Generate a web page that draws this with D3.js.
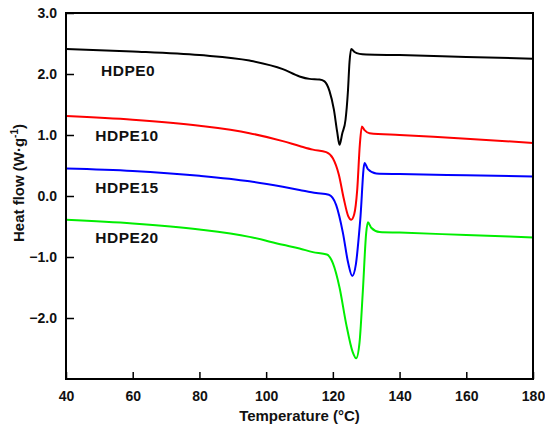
<!DOCTYPE html>
<html>
<head>
<meta charset="utf-8">
<script src="https://cdn.jsdelivr.net/npm/d3@7"></script>
<style>
  body { margin: 0; background: #fff; }
  svg { display: block; }
  text { font-family: Arial, "Liberation Sans", sans-serif; font-weight: bold; }
</style>
</head>
<body>
<div id="chart"></div>
<script>
// DSC curves, values: [temperature °C, heat flow W/g]
const hdpe0 = [
  [40, 2.41], [60, 2.37], [80, 2.31], [95, 2.22], [105, 2.08], [110, 1.96], [113, 1.92],
  [116, 1.91], [117.5, 1.88], [119, 1.72], [120.3, 1.42], [121.3, 1.05], [122, 0.84],
  [122.8, 1.02], [123.8, 1.25], [124.5, 1.7], [125, 2.2], [125.5, 2.41], [126.5, 2.36],
  [128, 2.33], [130, 2.32], [140, 2.31], [160, 2.28], [180, 2.25]
];
const hdpe10 = [
  [40, 1.31], [60, 1.25], [80, 1.15], [95, 1.03], [105, 0.9], [110, 0.82], [114, 0.76],
  [118, 0.72], [120, 0.62], [121.8, 0.35], [123.3, -0.05], [124.6, -0.33], [125.5, -0.39],
  [126.4, -0.3], [127.3, 0.1], [128.1, 0.85], [128.7, 1.14], [129.5, 1.08], [131, 1.03],
  [140, 1.0], [160, 0.94], [180, 0.87]
];
const hdpe15 = [
  [40, 0.45], [60, 0.41], [80, 0.33], [95, 0.24], [105, 0.15], [110, 0.1], [115, 0.05],
  [118.8, 0.02], [121, -0.15], [123, -0.6], [124.6, -1.1], [125.8, -1.31], [126.9, -1.12],
  [128.2, -0.4], [129.5, 0.54], [130.5, 0.44], [133, 0.37], [140, 0.36], [160, 0.34],
  [180, 0.32]
];
const hdpe20 = [
  [40, -0.39], [60, -0.45], [80, -0.55], [95, -0.67], [105, -0.8], [110, -0.86], [114, -0.92],
  [118.2, -0.96], [120, -1.1], [122, -1.5], [124, -2.1], [125.9, -2.55], [127, -2.66],
  [128, -2.4], [129, -1.55], [130, -0.6], [130.5, -0.43], [131.5, -0.52], [134, -0.59],
  [140, -0.6], [160, -0.64], [180, -0.68]
];
const series = [
  { name: 'HDPE0', color: '#000000', values: hdpe0, label: [50.5, 1.96] },
  { name: 'HDPE10', color: '#ff0000', values: hdpe10, label: [48.8, 0.895] },
  { name: 'HDPE15', color: '#0000ff', values: hdpe15, label: [48.8, 0.05] },
  { name: 'HDPE20', color: '#00ee00', values: hdpe20, label: [48.8, -0.77] }
];
const xTicks = [40, 60, 80, 100, 120, 140, 160, 180];
const yTicks = [3, 2, 1, 0, -1, -2];

const W = 545, H = 434;
const margin = { top: 13, right: 12, bottom: 55, left: 66 };
const w = W - margin.left - margin.right;
const h = H - margin.top - margin.bottom;

const svg = d3.select('#chart').append('svg')
  .attr('width', W).attr('height', H);
const g = svg.append('g')
  .attr('transform', `translate(${margin.left},${margin.top})`);

const x = d3.scaleLinear().domain([40, 180]).range([0, w]);
const y = d3.scaleLinear().domain([-3, 3]).range([h, 0]);

// curves
const line = d3.line()
  .x(d => x(d[0])).y(d => y(d[1]))
  .curve(d3.curveMonotoneX);

g.selectAll('.curve')
  .data(series)
  .join('path')
  .attr('fill', 'none')
  .attr('stroke', d => d.color)
  .attr('stroke-width', 2)
  .attr('d', d => line(d.values));

g.selectAll('.lbl')
  .data(series)
  .join('text')
  .attr('x', d => x(d.label[0]))
  .attr('y', d => y(d.label[1]))
  .attr('font-size', '15.5px')
  .attr('letter-spacing', '0.5px')
  .attr('fill', '#111')
  .text(d => d.name);

// axes, ticks pointing inward
const xAxis = g.append('g').attr('transform', `translate(0,${h})`)
  .call(d3.axisBottom(x).tickValues(xTicks).tickSizeInner(-7).tickSizeOuter(0).tickPadding(12));
const yAxis = g.append('g')
  .call(d3.axisLeft(y).tickValues(yTicks).tickFormat(d3.format('.1f')).tickSizeInner(-8).tickSizeOuter(0).tickPadding(9));

[xAxis, yAxis].forEach(a => {
  a.select('.domain').remove();
  a.selectAll('line').attr('stroke', '#000').attr('stroke-width', 1.5);
  a.selectAll('text').attr('font-size', '14px').attr('fill', '#111')
    .attr('font-family', 'Arial, "Liberation Sans", sans-serif').attr('font-weight', 'bold');
});

g.append('rect')
  .attr('width', w).attr('height', h)
  .attr('fill', 'none').attr('stroke', '#000').attr('stroke-width', 2);

// titles
svg.append('text')
  .attr('x', margin.left + w / 2).attr('y', 421)
  .attr('text-anchor', 'middle').attr('font-size', '15px').attr('fill', '#111')
  .text('Temperature (°C)');

const yt = svg.append('text')
  .attr('transform', 'translate(24,183) rotate(-90)')
  .attr('text-anchor', 'middle').attr('font-size', '15px').attr('fill', '#111');
yt.append('tspan').text('Heat flow (W·g');
yt.append('tspan').attr('font-size', '10px').attr('dy', -6).text('-1');
yt.append('tspan').attr('dy', 6).text(')');
</script>
</body>
</html>
